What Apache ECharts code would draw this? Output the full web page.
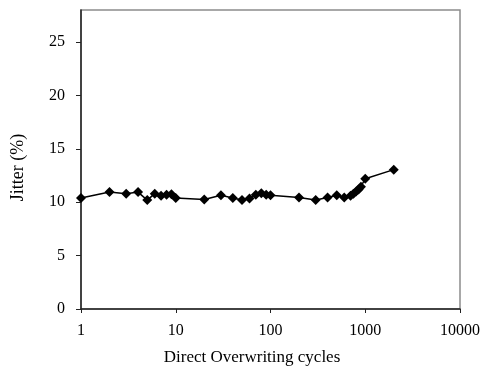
<!DOCTYPE html>
<html>
<head>
<meta charset="utf-8">
<script src="https://cdn.jsdelivr.net/npm/echarts@6/dist/echarts.min.js"></script>
<style>
  html, body { margin: 0; padding: 0; background: #fff; }
  #chart { width: 483px; height: 376px; }
</style>
</head>
<body>
<div id="chart"></div>
<script>
// direct overwriting cycles vs jitter (%)
const cycles = [1, 2, 3, 4, 5, 6, 7, 8, 9, 10, 20, 30, 40, 50, 60, 70, 80, 90, 100,
  200, 300, 400, 500, 600, 700, 750, 800, 850, 900, 1000, 2000];
const jitter = [10.4, 10.95, 10.8, 10.95, 10.2, 10.8, 10.6, 10.7, 10.75, 10.4, 10.25, 10.65, 10.4, 10.2, 10.35, 10.7, 10.85, 10.7, 10.65,
  10.45, 10.2, 10.45, 10.65, 10.45, 10.6, 10.8, 11.0, 11.2, 11.45, 12.2, 13.05];
const yTicks = [0, 5, 10, 15, 20, 25];

const font = 'Liberation Serif';
const chart = echarts.init(document.getElementById('chart'));

chart.setOption({
  animation: false,
  grid: {
    left: 81, right: 22, top: 10, bottom: 67,
    show: true, borderColor: '#8c8c8c', borderWidth: 1.5
  },
  xAxis: {
    type: 'log',
    logBase: 10,
    min: 1,
    max: 10000,
    name: 'Direct Overwriting cycles',
    nameLocation: 'middle',
    nameGap: 40,
    nameTextStyle: { fontFamily: font, fontSize: 17, color: '#000', padding: [0, 37, 0, 0] },
    axisLine: { lineStyle: { color: '#222', width: 1.5 } },
    axisTick: { show: true, length: 4, lineStyle: { color: '#222' } },
    minorTick: { show: false },
    splitLine: { show: false },
    axisLabel: { fontFamily: font, fontSize: 16, color: '#000', margin: 14, formatter: v => String(v) }
  },
  yAxis: {
    type: 'value',
    min: 0,
    max: 28,
    name: 'Jitter (%)',
    nameLocation: 'middle',
    nameGap: 54,
    nameRotate: 90,
    nameTextStyle: { fontFamily: font, fontSize: 18, color: '#000', padding: [0, 16, 0, 0] },
    axisLine: { show: true, lineStyle: { color: '#222', width: 1.5 } },
    axisTick: { show: true, length: 5, inside: false, customValues: yTicks, lineStyle: { color: '#222' } },
    splitLine: { show: false },
    axisLabel: { fontFamily: font, fontSize: 16, color: '#000', margin: 16, customValues: yTicks }
  },
  series: [{
    type: 'line',
    data: cycles.map((c, i) => [c, jitter[i]]),
    symbol: 'diamond',
    symbolSize: 10,
    itemStyle: { color: '#000' },
    lineStyle: { color: '#000', width: 1.5 }
  }]
});
</script>
</body>
</html>
